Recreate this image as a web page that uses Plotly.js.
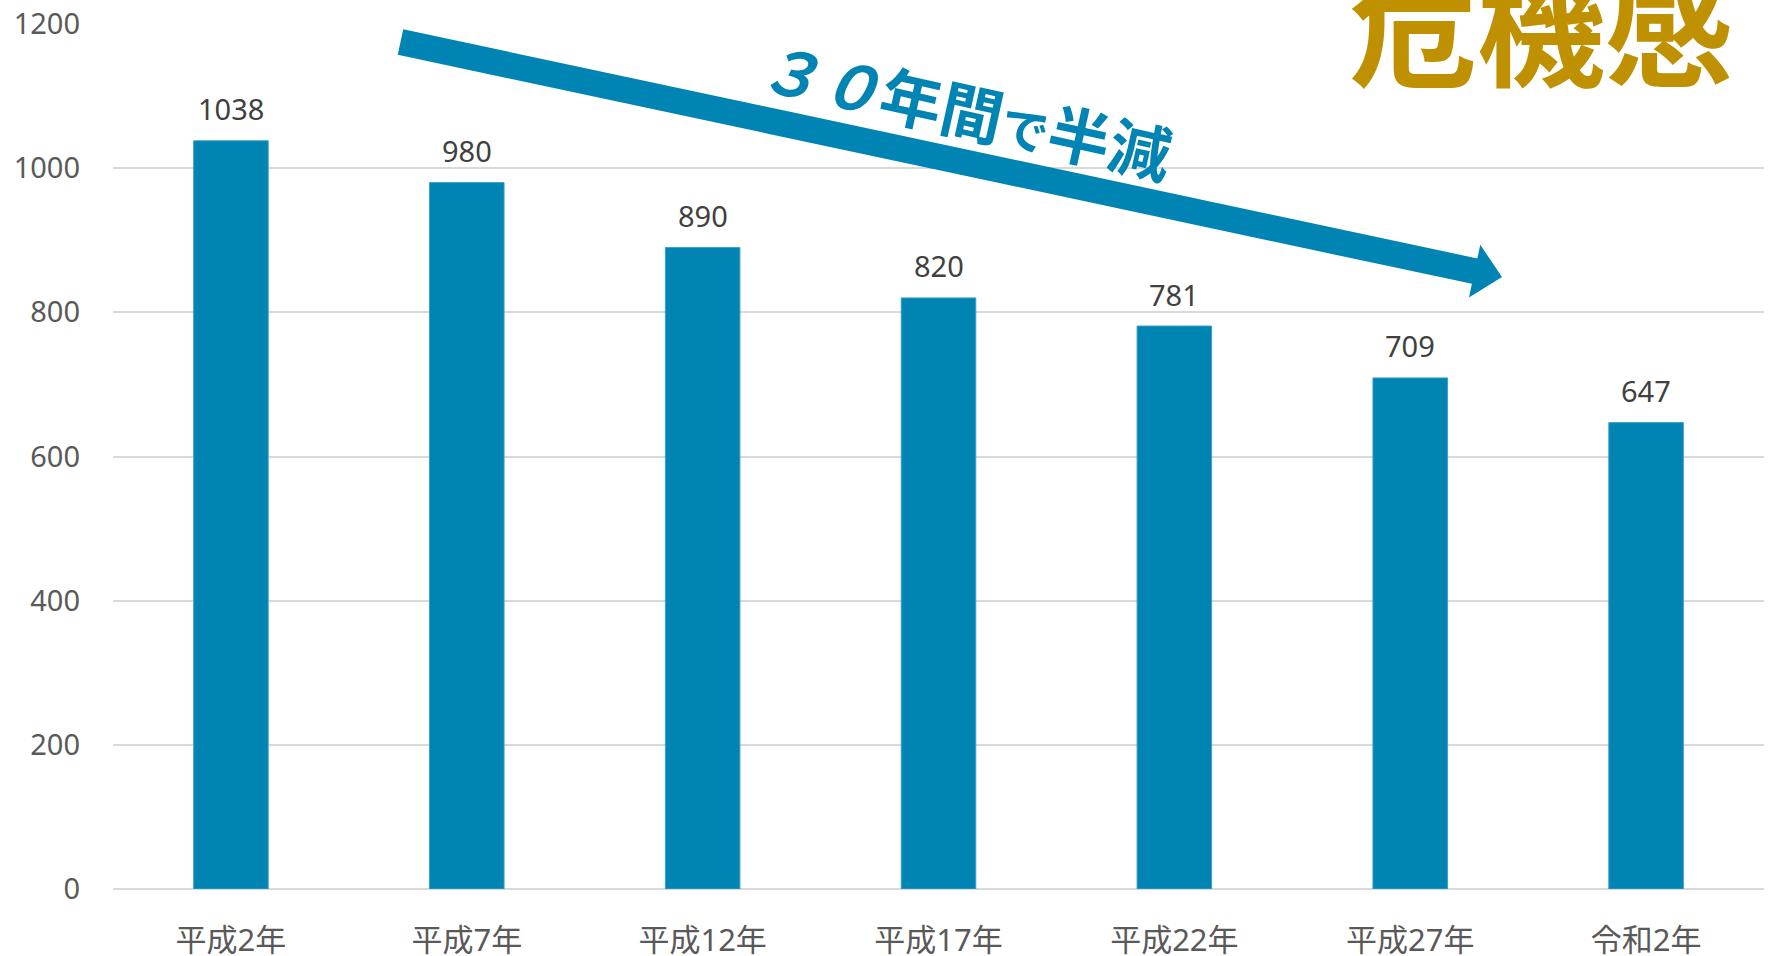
<!DOCTYPE html>
<html>
<head>
<meta charset="utf-8">
<script src="https://cdn.plot.ly/plotly-3.0.1.min.js"></script>
<style>html,body{margin:0;padding:0;background:#fff;}#chart{width:1771px;height:956px;}</style>
</head>
<body>
<div id="chart"></div>
<script>
// ---- data ----
const categories = ['平成2年', '平成7年', '平成12年', '平成17年', '平成22年', '平成27年', '令和2年'];
const values = [1038, 980, 890, 820, 781, 709, 647];
const yTickValues = [0, 200, 400, 600, 800, 1000, 1200];
const trendLabel = '<i>３０</i>年間<span style="font-size:48px">で</span>半減';
const headline = '危機感';

// ---- layout geometry (pixels) ----
const W = 1771, H = 956;
const M = {l: 113, r: 7, t: 24, b: 67};
const PW = W - M.l - M.r, PH = H - M.t - M.b;
const px = x => (x - M.l) / PW;
const py = y => (H - M.b - y) / PH;

const BLUE = '#0084B4';
const GOLD = '#BF9000';
const FONT = 'Noto Sans, Noto Sans CJK JP, sans-serif';

// arrow polygon (pixel space)
const S = [400.5, 42], T = [1502, 277];
const dx = T[0] - S[0], dy = T[1] - S[1];
const L = Math.hypot(dx, dy);
const u = [dx / L, dy / L], n = [-u[1], u[0]];
const hl = 28, w = 13, hw = 27;
const B = [T[0] - hl * u[0], T[1] - hl * u[1]];
const pts = [
  [S[0] - w * n[0], S[1] - w * n[1]],
  [B[0] - w * n[0], B[1] - w * n[1]],
  [B[0] - hw * n[0], B[1] - hw * n[1]],
  T,
  [B[0] + hw * n[0], B[1] + hw * n[1]],
  [B[0] + w * n[0], B[1] + w * n[1]],
  [S[0] + w * n[0], S[1] + w * n[1]]
];
const path = 'M' + pts.map(p => px(p[0]).toFixed(5) + ',' + py(p[1]).toFixed(5)).join(' L') + ' Z';

const trace = {
  type: 'bar',
  x: categories,
  y: values,
  marker: {color: BLUE, line: {color: '#3aa0c8', width: 1}},
  hoverinfo: 'x+y'
};

const annotations = categories.map((c, i) => ({
  x: c, y: values[i], xref: 'x', yref: 'y',
  text: String(values[i]), showarrow: false,
  yanchor: 'middle', yshift: 32,
  font: {family: FONT, size: 29, color: '#404040'}
}));

annotations.push({
  xref: 'paper', yref: 'paper', x: px(966), y: py(108),
  xanchor: 'center', yanchor: 'middle',
  text: trendLabel, textangle: 12.5, showarrow: false,
  font: {family: 'Noto Sans CJK JP, sans-serif', size: 62, color: BLUE, weight: 'bold'}
});

annotations.push({
  xref: 'paper', yref: 'paper', x: px(1541), y: py(22),
  xanchor: 'center', yanchor: 'middle',
  text: '<b>' + headline + '</b>', showarrow: false,
  font: {family: 'Noto Sans CJK JP, sans-serif', size: 128, color: GOLD}
});

const layout = {
  width: W, height: H,
  margin: M,
  paper_bgcolor: '#ffffff', plot_bgcolor: '#ffffff',
  showlegend: false,
  bargap: 0.684,
  font: {family: FONT, color: '#595959'},
  xaxis: {
    type: 'category',
    tickfont: {family: FONT, size: 31, color: '#595959'},
    ticks: '', ticklabelstandoff: 30,
    showgrid: false, showline: false, zeroline: false
  },
  yaxis: {
    range: [0, 1200],
    tickvals: yTickValues,
    tickfont: {family: FONT, size: 29, color: '#595959'},
    ticks: '', ticklabelstandoff: 32,
    showgrid: true, gridcolor: '#d9d9d9', gridwidth: 2,
    zeroline: true, zerolinecolor: '#d9d9d9', zerolinewidth: 2,
    showline: false
  },
  shapes: [{
    type: 'path', xref: 'paper', yref: 'paper', path: path,
    fillcolor: BLUE, line: {width: 0}, layer: 'above'
  }],
  annotations: annotations
};

Plotly.newPlot('chart', [trace], layout, {displayModeBar: false, staticPlot: true});
</script>
</body>
</html>
